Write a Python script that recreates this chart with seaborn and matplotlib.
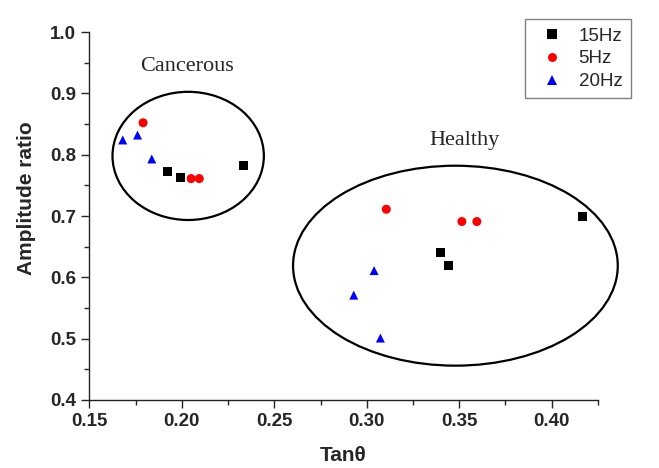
import pandas as pd
import seaborn as sns
import matplotlib.pyplot as plt
from matplotlib.patches import Ellipse
from matplotlib.ticker import MultipleLocator, AutoMinorLocator

# values
freq_order = ['15Hz', '5Hz', '20Hz']

tan_15 = [0.192, 0.199, 0.2335, 0.3397, 0.344, 0.417]
amp_15 = [0.772, 0.762, 0.782, 0.640, 0.620, 0.700]

tan_5 = [0.179, 0.205, 0.2094, 0.3106, 0.3515, 0.3596]
amp_5 = [0.852, 0.761, 0.761, 0.711, 0.691, 0.691]

tan_20 = [0.168, 0.176, 0.1837, 0.304, 0.293, 0.3074]
amp_20 = [0.824, 0.832, 0.793, 0.611, 0.571, 0.501]

df = pd.DataFrame({
    'tan': tan_15 + tan_5 + tan_20,
    'amp': amp_15 + amp_5 + amp_20,
    'freq': ['15Hz'] * len(tan_15) + ['5Hz'] * len(tan_5) + ['20Hz'] * len(tan_20),
})

sns.set_style("ticks")
plt.rcParams['font.family'] = ['Liberation Sans', 'DejaVu Sans']

fig = plt.figure(figsize=(6.59, 4.68), dpi=100)
ax = fig.add_axes([0.1358, 0.1453, 0.7712, 0.7863])

sns.scatterplot(data=df, x='tan', y='amp', hue='freq', style='freq',
                hue_order=freq_order, style_order=freq_order,
                palette={'15Hz': 'black', '5Hz': 'red', '20Hz': 'blue'},
                markers={'15Hz': 's', '5Hz': 'o', '20Hz': '^'},
                s=42, linewidth=0, ax=ax, zorder=3)

# group outlines
ax.add_patch(Ellipse((0.2034, 0.798), 0.0819, 0.209, fill=False,
                     edgecolor='black', linewidth=1.6, clip_on=False))
ax.add_patch(Ellipse((0.348, 0.619), 0.1757, 0.326, fill=False,
                     edgecolor='black', linewidth=1.6, clip_on=False))
ax.text(0.2029, 0.943, 'Cancerous', family='Liberation Serif', fontsize=16,
        ha='center', va='center')
ax.text(0.3528, 0.8225, 'Healthy', family='Liberation Serif', fontsize=16,
        ha='center', va='center')

ax.set_xlim(0.15, 0.425)
ax.set_ylim(0.4, 1.0)
ax.xaxis.set_major_locator(MultipleLocator(0.05))
ax.yaxis.set_major_locator(MultipleLocator(0.1))
ax.xaxis.set_minor_locator(AutoMinorLocator(2))
ax.yaxis.set_minor_locator(AutoMinorLocator(2))
ax.xaxis.set_major_formatter(plt.FormatStrFormatter('%.2f'))
ax.yaxis.set_major_formatter(plt.FormatStrFormatter('%.1f'))
ax.tick_params(which='major', length=6, width=1, direction='out', labelsize=13.5)
ax.tick_params(which='minor', length=3.5, width=1, direction='out')
for lab in ax.get_xticklabels() + ax.get_yticklabels():
    lab.set_fontweight('bold')

sns.despine(ax=ax)
for sp in ['left', 'bottom']:
    ax.spines[sp].set_linewidth(1.0)
    ax.spines[sp].set_color('#222222')

ax.set_xlabel('Tan\u03b8', fontsize=15, fontweight='bold')
ax.set_ylabel('Amplitude ratio', fontsize=15, fontweight='bold')
ax.xaxis.set_label_coords(0.5, -0.125)
ax.yaxis.set_label_coords(-0.105, 0.548)

leg = ax.legend(loc='upper right', bbox_to_anchor=(0.971, 0.979),
                bbox_transform=fig.transFigure, fontsize=13.5, frameon=True,
                fancybox=False, edgecolor='#808080', framealpha=1,
                handlelength=2.0, handletextpad=0.4, labelspacing=0.3,
                borderpad=0.44)
leg.get_frame().set_linewidth(1.0)

plt.savefig('out.png', dpi=100)
